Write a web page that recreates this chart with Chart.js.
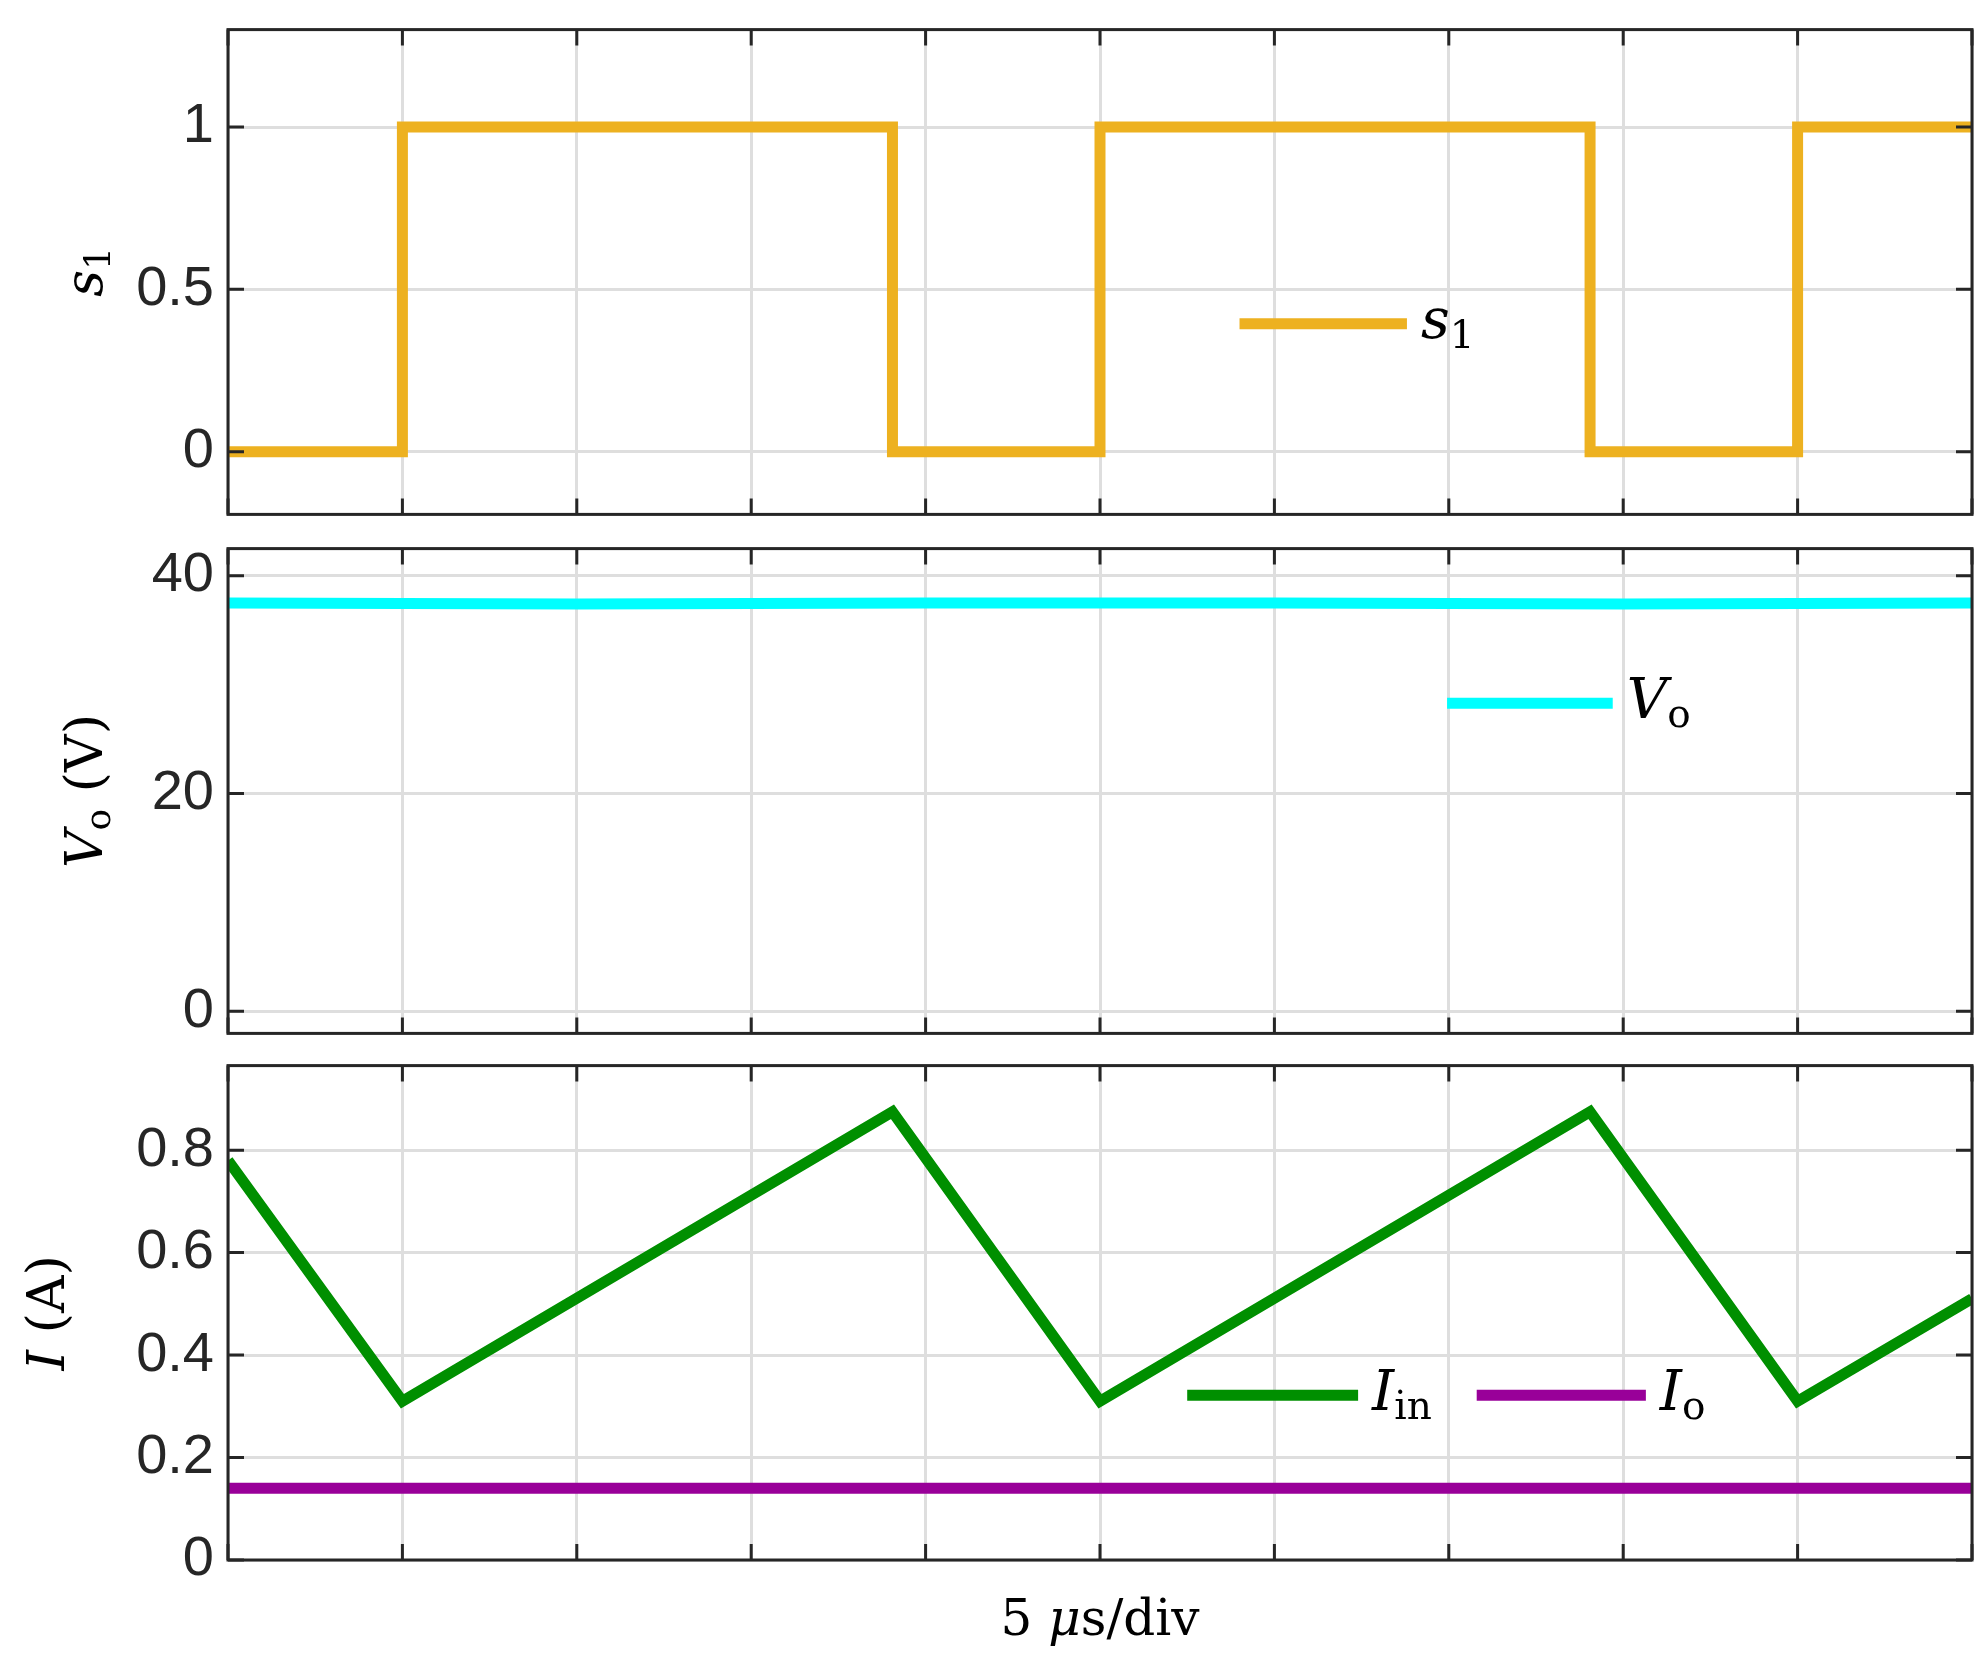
<!DOCTYPE html>
<html><head><meta charset="utf-8">
<script src="https://cdn.jsdelivr.net/npm/chart.js@4"></script>
<style>body{margin:0;background:#fff;width:1986px;height:1659px;position:relative;overflow:hidden}
canvas{position:absolute;left:0}</style></head><body>
<canvas id="c1"></canvas><canvas id="c2"></canvas><canvas id="c3"></canvas>
<script>
// ---- data ----
const xTicks = [0,5,10,15,20,25,30,35,40,45,50];
const sTimes  = [0,5,5,19.05,19.05,25,25,39.05,39.05,45,45,50];
const sValues = [0,0,1,1,0,0,1,1,0,0,1,1];
const voTimes  = [0,10,20,30,40,50];
const voValues = [37.5,37.4,37.5,37.5,37.4,37.5];
const iinTimes  = [0,5,19.05,25,39.05,45,50];
const iinValues = [0.78,0.31,0.875,0.31,0.875,0.31,0.51];
const ioTimes  = [0,50];
const ioValues = [0.14,0.14];
const yTicks1 = [0,0.5,1];
const yTicks2 = [0,20,40];
const yTicks3 = [0,0.2,0.4,0.6,0.8];

const L=228, R=1972, W=1986, PAD=40;
const FONT='"Liberation Sans", Arial, sans-serif';
const SERIF='"DejaVu Serif", "Liberation Serif", serif';

function drawRich(ctx, segs, x, y, size, align){
  let w=0;
  const f=s=>(s[1]?'italic ':'')+(s[2]?Math.round(size*0.7):size)+'px '+SERIF;
  segs.forEach(s=>{ctx.font=f(s); w+=ctx.measureText(s[0]).width;});
  let cx = align==='center'? x-w/2 : x;
  ctx.fillStyle='#000'; ctx.textBaseline='middle'; ctx.textAlign='left';
  segs.forEach(s=>{ctx.font=f(s); ctx.fillText(s[0],cx,y+(s[2]?size*0.25:0)); cx+=ctx.measureText(s[0]).width;});
}

function mkPlugin(cfg){
  return {id:'deco', afterDraw(chart){
    const ctx=chart.ctx, a=chart.chartArea;
    ctx.save();
    ctx.strokeStyle='#262626'; ctx.lineWidth=3;
    const xs=chart.scales.x, ys=chart.scales.y;
    ctx.beginPath();
    xTicks.forEach(v=>{const px=xs.getPixelForValue(v); ctx.moveTo(px,a.top); ctx.lineTo(px,a.top+16); ctx.moveTo(px,a.bottom); ctx.lineTo(px,a.bottom-16);});
    ys.ticks.forEach(t=>{const py=ys.getPixelForValue(t.value); ctx.moveTo(a.left,py); ctx.lineTo(a.left+16,py); ctx.moveTo(a.right,py); ctx.lineTo(a.right-16,py);});
    ctx.stroke();
    ctx.strokeRect(a.left,a.top,a.right-a.left,a.bottom-a.top);
    cfg.legend.forEach(l=>{
      const x0=a.left+l.fx0*(a.right-a.left), x1=a.left+l.fx1*(a.right-a.left), y=a.top+l.fy*(a.bottom-a.top);
      ctx.strokeStyle=l.color; ctx.lineWidth=11; ctx.beginPath(); ctx.moveTo(x0,y); ctx.lineTo(x1,y); ctx.stroke();
      drawRich(ctx,l.text,x1+14,y,56,'left');
    });
    ctx.translate(cfg.titleX,(a.top+a.bottom)/2); ctx.rotate(-Math.PI/2);
    drawRich(ctx,cfg.title,0,0,52,'center');
    ctx.restore();
    if(cfg.xlabel){ctx.save(); drawRich(ctx,[['5 ',false,false],['μ',true,false],['s/div',false,false]],(a.left+a.right)/2,a.bottom+62,50,'center'); ctx.restore();}
  }};
}

function make(id, top, bottom, datasets, ymin, ymax, yt, cfg){
  const c=document.getElementById(id);
  const h=bottom-top+2*PAD+(cfg.xlabel?100:0);
  c.width=W; c.height=h; c.style.top=(top-PAD)+'px'; c.style.width=W+'px'; c.style.height=h+'px';
  new Chart(c,{type:'scatter',data:{datasets:datasets.map(d=>({data:d.t.map((t,i)=>({x:t,y:d.v[i]})),borderColor:d.color,backgroundColor:d.color,showLine:true,pointRadius:0,borderWidth:11,tension:0}))},
    options:{responsive:false,animation:false,devicePixelRatio:1,
      layout:{padding:{top:PAD,bottom:PAD+(cfg.xlabel?100:0),left:0,right:W-R}},
      plugins:{legend:{display:false},tooltip:{enabled:false}},
      scales:{
        x:{type:'linear',min:0,max:50,afterBuildTicks:s=>{s.ticks=xTicks.map(v=>({value:v}));},
           ticks:{display:false},grid:{color:'#dedede',lineWidth:3,drawTicks:false},border:{display:false},afterFit:s=>{s.height=0;}},
        y:{min:ymin,max:ymax,afterBuildTicks:s=>{s.ticks=yt.map(v=>({value:v}));},
           ticks:{font:{family:FONT,size:56},color:'#262626',padding:14,callback:v=>String(v)},
           grid:{color:'#dedede',lineWidth:3,drawTicks:false},border:{display:false},afterFit:s=>{s.width=L;}}
      }},plugins:[mkPlugin(cfg)]});
}

make('c1',22,522,[{t:sTimes,v:sValues,color:'#EDB120'}],-0.193,1.3,yTicks1,
  {titleX:88,title:[['s',true,false],['1',false,true]],legend:[{fx0:0.58,fx1:0.676,fy:0.607,color:'#EDB120',text:[['s',true,false],['1',false,true]]}]});
make('c2',541,1041,[{t:voTimes,v:voValues,color:'#00FFFF'}],-2.03,42.5,yTicks2,
  {titleX:88,title:[['V',true,false],['o',false,true],[' (V)',false,false]],legend:[{fx0:0.699,fx1:0.794,fy:0.319,color:'#00FFFF',text:[['V',true,false],['o',false,true]]}]});
make('c3',1058,1560,[{t:iinTimes,v:iinValues,color:'#008F00'},{t:ioTimes,v:ioValues,color:'#990099'}],0,0.965,yTicks3,
  {titleX:50,xlabel:true,title:[['I',true,false],[' (A)',false,false]],legend:[
    {fx0:0.55,fx1:0.648,fy:0.667,color:'#008F00',text:[['I',true,false],['in',false,true]]},
    {fx0:0.716,fx1:0.813,fy:0.667,color:'#990099',text:[['I',true,false],['o',false,true]]}]});
</script></body></html>
